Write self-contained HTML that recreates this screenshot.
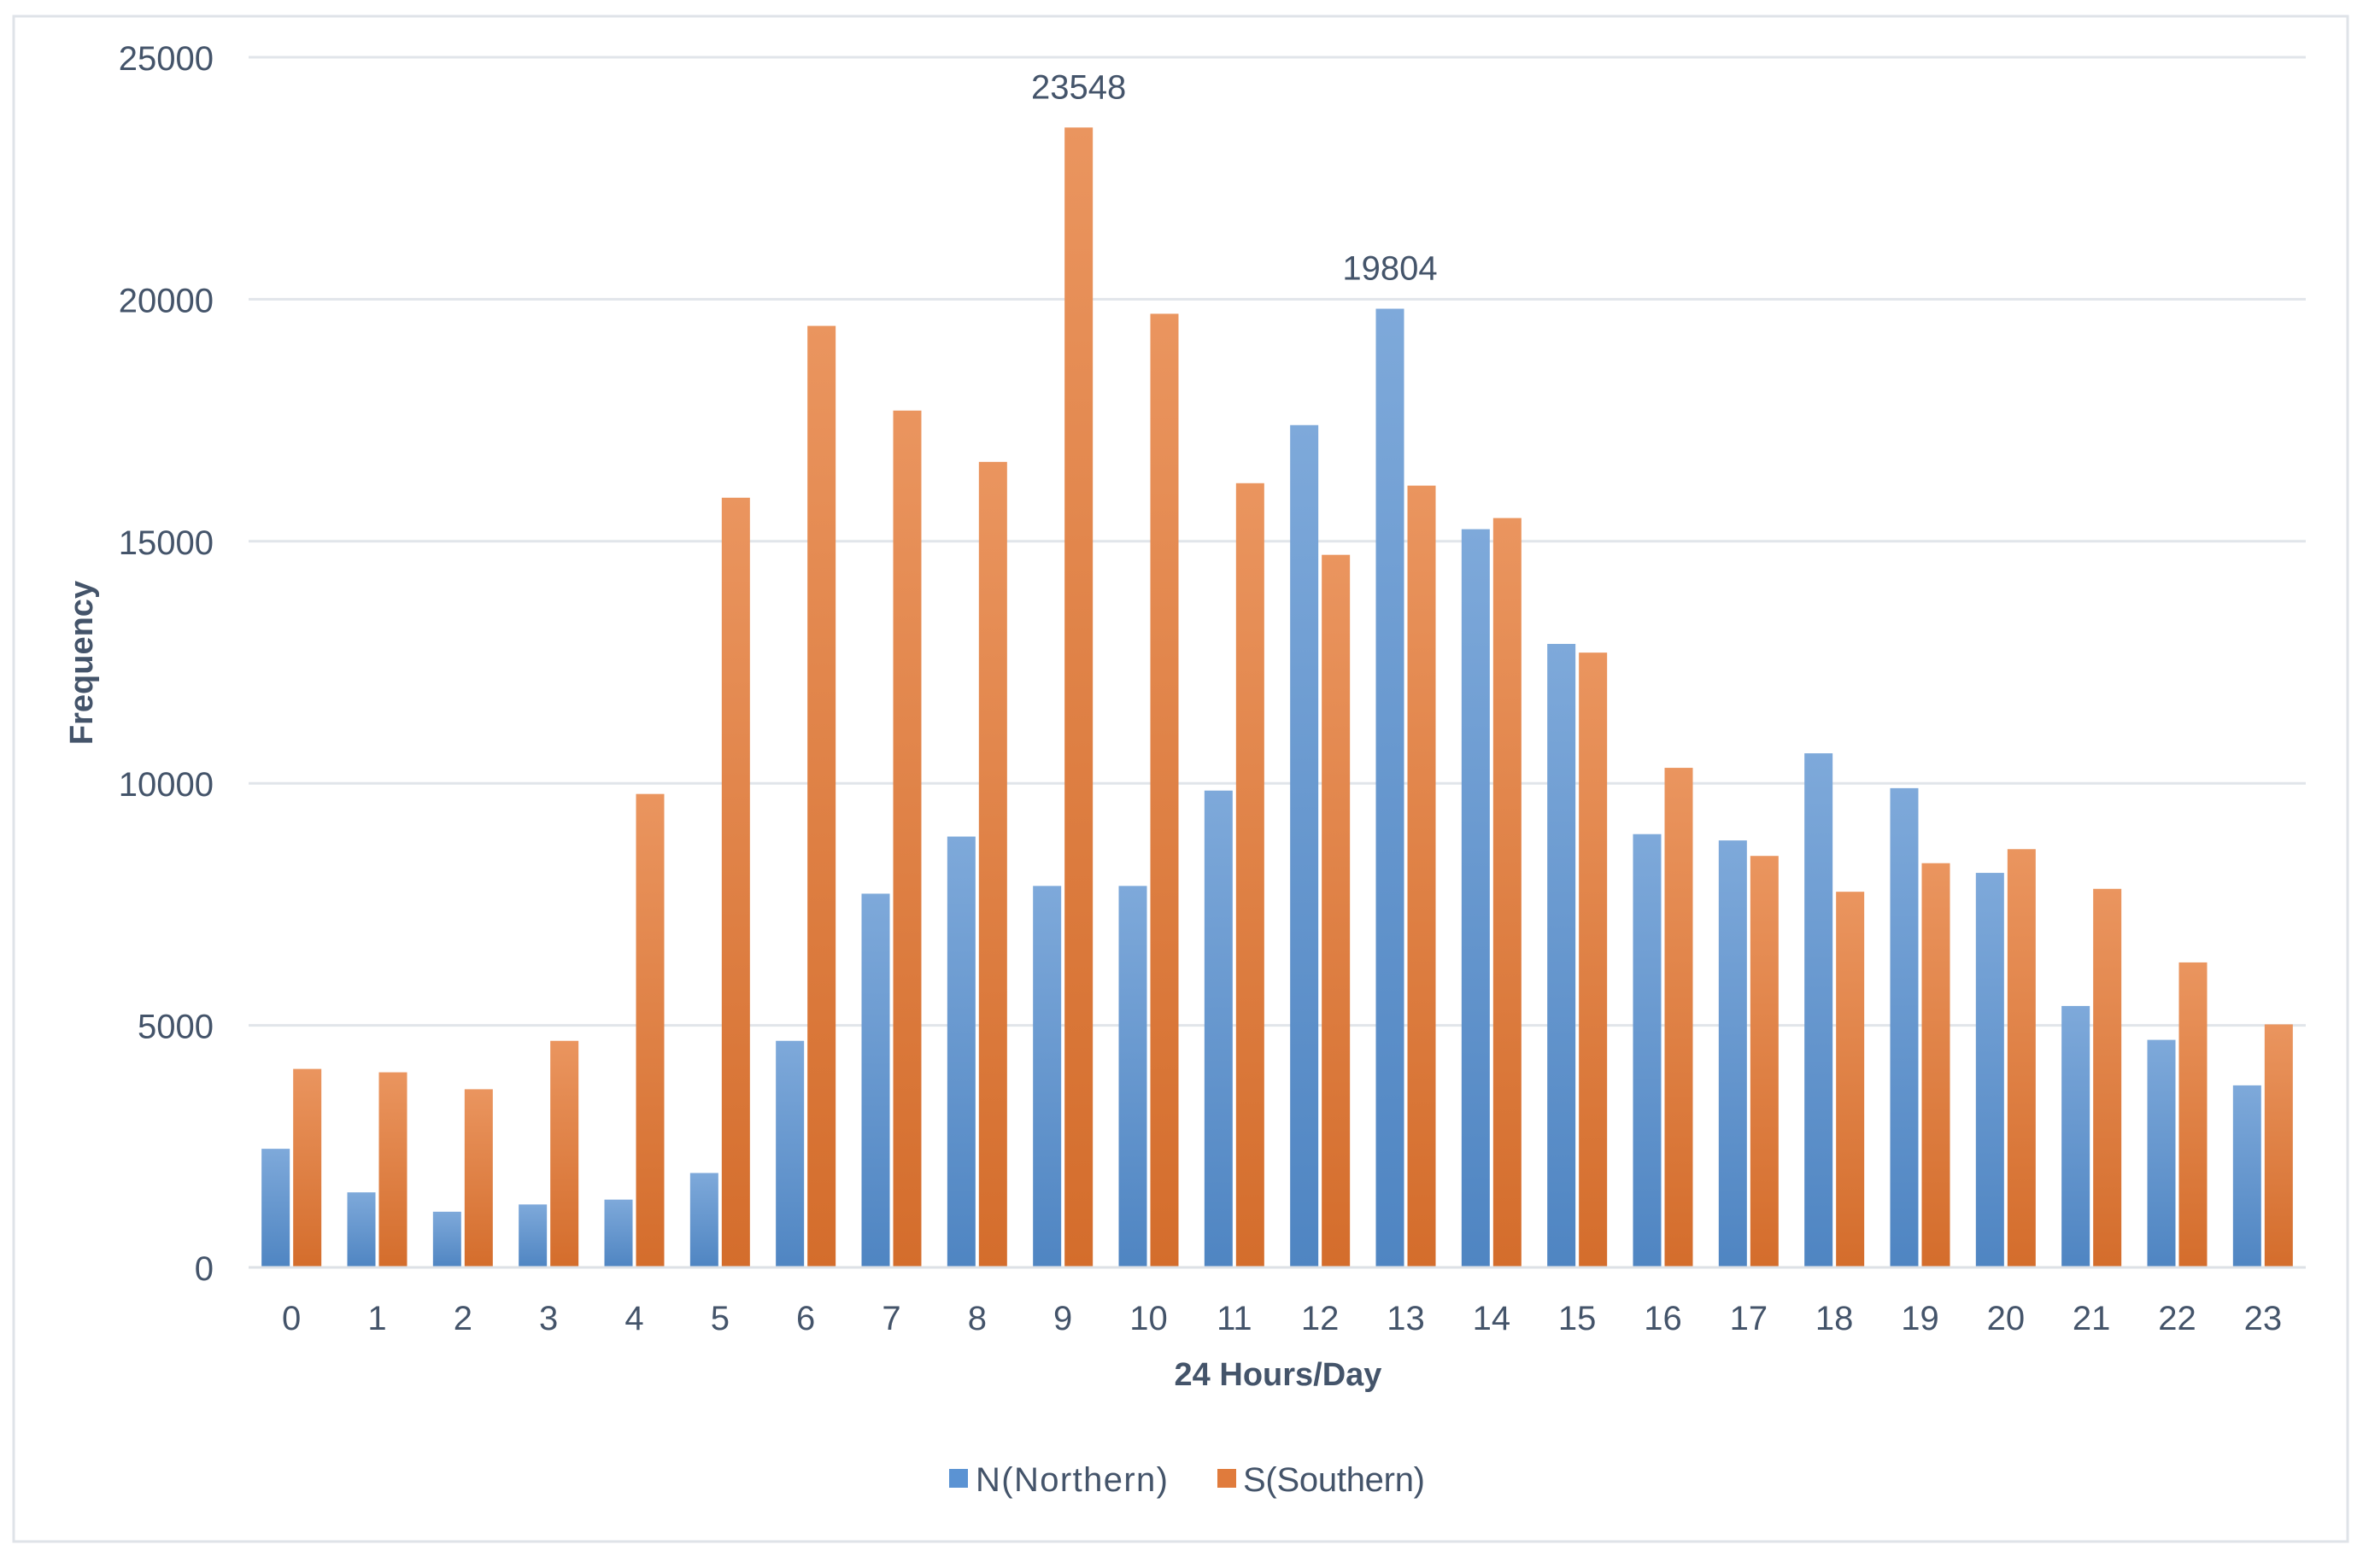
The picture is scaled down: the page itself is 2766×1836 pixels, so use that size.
<!DOCTYPE html>
<html><head><meta charset="utf-8"><style>
html,body{margin:0;padding:0;background:#fff;}
svg{display:block;}
text{font-family:"Liberation Sans",sans-serif;fill:#44546a;}
</style></head><body>
<svg id="chart" width="2766" height="1836" viewBox="0 0 2766 1836" xmlns="http://www.w3.org/2000/svg">
<defs>
<linearGradient id="gN" x1="0" y1="0" x2="0" y2="1"><stop offset="0" stop-color="#7ea9da"/><stop offset="1" stop-color="#4f85c2"/></linearGradient>
<linearGradient id="gS" x1="0" y1="0" x2="0" y2="1"><stop offset="0" stop-color="#ea955f"/><stop offset="1" stop-color="#d46d2c"/></linearGradient>
</defs>
<rect x="16" y="19" width="2732" height="1786" fill="#fff" stroke="#dfe3e8" stroke-width="3"/>
<g id="grid"></g>
<g id="bars"></g>
<g id="labels"></g>
<text x="108" y="776" transform="rotate(-90 108 776)" text-anchor="middle" font-size="38" font-weight="bold">Frequency</text>
<text x="1496" y="1622" text-anchor="middle" font-size="38" font-weight="bold">24 Hours/Day</text>
<g>
<rect x="1111" y="1720" width="22" height="22" fill="#5b93d3"/>
<text x="1142" y="1746" font-size="40" textLength="225">N(Northern)</text>
<rect x="1425" y="1720" width="22" height="22" fill="#e07b3c"/>
<text x="1455" y="1746" font-size="40" textLength="213">S(Southern)</text>
</g>
</svg>
<script>
const categories = ["0","1","2","3","4","5","6","7","8","9","10","11","12","13","14","15","16","17","18","19","20","21","22","23"];
const northern = [2450,1550,1150,1300,1400,1950,4680,7720,8900,7880,7880,9850,17400,19804,15250,12880,8950,8820,10620,9900,8150,5400,4700,3760];
const southern = [4100,4030,3680,4680,9780,15900,19450,17700,16640,23548,19700,16200,14720,16150,15480,12700,10320,8500,7760,8350,8640,7820,6300,5020];
const yTicks = [0,5000,10000,15000,20000,25000];
const annotated = [{series:"S", idx:9},{series:"N", idx:13}];

const NS="http://www.w3.org/2000/svg";
const L=291,R=2699,B=1484,T=67,YMAX=25000;
const step=(R-L)/categories.length;
function y(v){return B-(v/YMAX)*(B-T);}
function xc(i){return L+step*(i+0.5);}
function mk(tag,attrs,parent){const e=document.createElementNS(NS,tag);for(const k in attrs)e.setAttribute(k,attrs[k]);parent.appendChild(e);return e;}
const grid=document.getElementById('grid'),bars=document.getElementById('bars'),labels=document.getElementById('labels');
yTicks.forEach(t=>{
  const ln=mk('line',{x1:L,x2:R,y1:y(t),y2:y(t),stroke:'#e1e5ea','stroke-width':3},grid);
  
  
  const tx=mk('text',{x:250,y:y(t)+15,'text-anchor':'end','font-size':40},grid);
  tx.textContent=t;
  
  
});
const bw=33,off=2;
categories.forEach((c,i)=>{
  const cx=xc(i);
  const bn=mk('rect',{x:cx-off-bw,y:y(northern[i]),width:bw,height:B-y(northern[i]),fill:'url(#gN)'},bars);
  
  
  const bs=mk('rect',{x:cx+off,y:y(southern[i]),width:bw,height:B-y(southern[i]),fill:'url(#gS)'},bars);
  
  
  const tl=mk('text',{x:cx,y:1557,'text-anchor':'middle','font-size':40},labels);
  tl.textContent=c;
  
  
});
annotated.forEach(a=>{
  const v=a.series==="S"?southern[a.idx]:northern[a.idx];
  const cx=a.series==="S"?xc(a.idx)+off+bw/2:xc(a.idx)-off-bw/2;
  const t=mk('text',{x:cx,y:y(v)-34,'text-anchor':'middle','font-size':40},labels);
  t.textContent=v;
  
  
});
const base=mk('line',{x1:L,x2:R,y1:B,y2:B,stroke:'#dde1e6','stroke-width':3},labels);


</script>
</body></html>
